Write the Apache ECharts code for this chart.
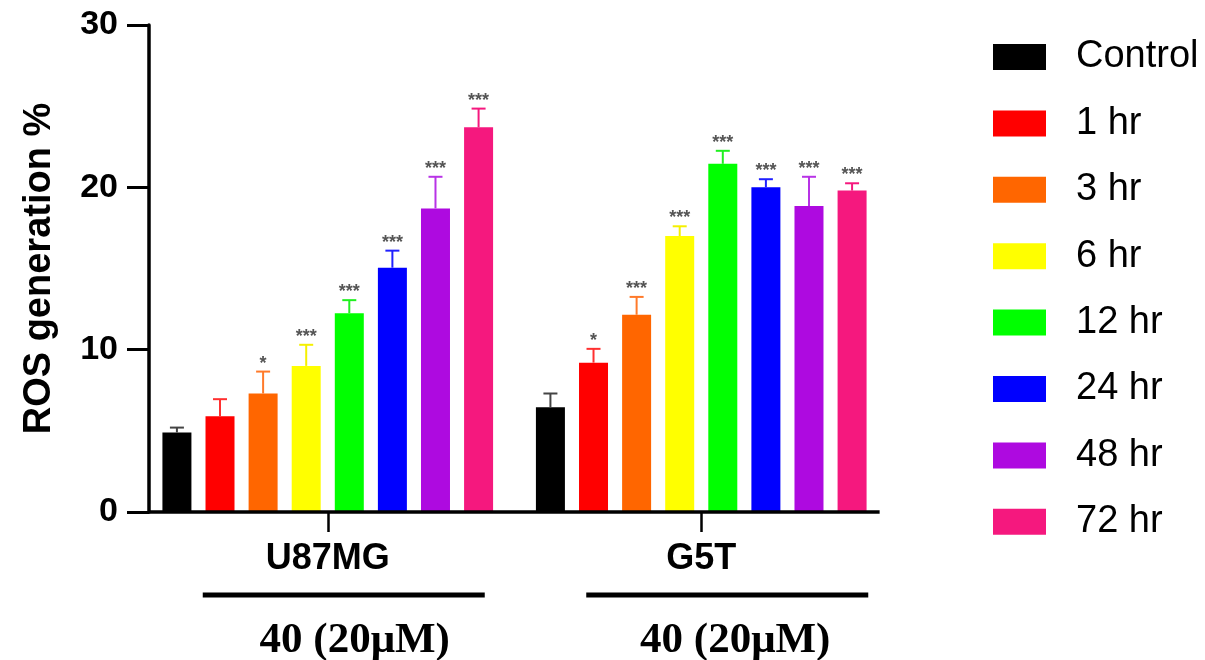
<!DOCTYPE html>
<html>
<head>
<meta charset="utf-8">
<script src="https://cdn.jsdelivr.net/npm/echarts@6/dist/echarts.min.js"></script>
<style>
  html, body { margin: 0; padding: 0; background: #ffffff; }
  #chart { width: 1205px; height: 660px; }
</style>
</head>
<body>
<div id="chart"></div>
<script>
// Cell lines on the x axis
const cellLines = ['U87MG', 'G5T'];
// Treatment time points (one bar series each)
const timePoints = ['Control', '1 hr', '3 hr', '6 hr', '12 hr', '24 hr', '48 hr', '72 hr'];
const barColors = ['#000000', '#ff0000', '#ff6600', '#ffff00', '#00ff00', '#0000ff', '#ae0ae0', '#f5187e'];
const errColors = ['#444444', '#ff3030', '#ff7a2a', '#f5f000', '#20f020', '#2020ff', '#b833e6', '#f5187e'];

// Mean ROS generation (%) per time point
const meanU87MG = [4.9, 5.9, 7.3, 9.0, 12.25, 15.05, 18.7, 23.7];
const meanG5T   = [6.45, 9.2, 12.15, 17.0, 21.45, 20.0, 18.85, 19.8];
// Upper error (SD)
const sdU87MG = [0.3, 1.05, 1.35, 1.3, 0.8, 1.05, 1.95, 1.15];
const sdG5T   = [0.85, 0.85, 1.1, 0.6, 0.8, 0.5, 1.8, 0.45];
// Significance marks vs control
const sigU87MG = ['', '', '*', '***', '***', '***', '***', '***'];
const sigG5T   = ['', '*', '***', '***', '***', '***', '***', '***'];

// Y axis ticks
const yTicks = [0, 10, 20, 30];
// Treatment label under each cell line
const doseLabels = ['40 (20μM)', '40 (20μM)'];

const BAR_WIDTH = 29;
const BAR_GAP = 0.486;
const STEP = BAR_WIDTH * (1 + BAR_GAP);
const Y_AXIS_SHIFT = 8;

const means = [meanU87MG, meanG5T];
const sds = [sdU87MG, sdG5T];
const sigs = [sigU87MG, sigG5T];

const barSeries = timePoints.map((name, i) => ({
  name: name,
  type: 'bar',
  barWidth: BAR_WIDTH,
  barGap: (BAR_GAP * 100) + '%',
  itemStyle: { color: barColors[i] },
  data: cellLines.map((c, k) => means[k][i]),
  z: 2
}));

// Error bars + significance marks: [category, mean, sd, seriesIndex, mark]
const errData = [];
cellLines.forEach((c, k) => {
  timePoints.forEach((t, i) => {
    errData.push([k, means[k][i], sds[k][i], i, sigs[k][i]]);
  });
});

const errSeries = {
  type: 'custom',
  name: 'errors',
  data: errData,
  z: 3,
  renderItem: function (params, api) {
    const cat = api.value(0);
    const mean = api.value(1);
    const sd = api.value(2);
    const idx = api.value(3);
    const mark = errData[params.dataIndex][4];
    const base = api.coord([cat, mean]);
    const top = api.coord([cat, mean + sd]);
    const x = base[0] + (idx - (timePoints.length - 1) / 2) * STEP;
    const col = errColors[idx];
    const children = [
      { type: 'line', shape: { x1: x, y1: base[1], x2: x, y2: top[1] }, style: { stroke: col, lineWidth: 2 } },
      { type: 'line', shape: { x1: x - 7, y1: top[1], x2: x + 7, y2: top[1] }, style: { stroke: col, lineWidth: 2 } }
    ];
    if (mark) {
      children.push({
        type: 'text',
        style: {
          text: mark, x: x, y: top[1] - 8,
          align: 'center', verticalAlign: 'middle',
          fill: '#555555', font: 'bold 18px "Liberation Sans", Arial, sans-serif'
        }
      });
    }
    return { type: 'group', children: children };
  }
};

const chart = echarts.init(document.getElementById('chart'), null, { renderer: 'canvas' });

const option = {
  backgroundColor: '#ffffff',
  animation: false,
  grid: { left: 141, top: 25, width: 747, bottom: 148 },
  legend: {
    orient: 'vertical',
    left: 993,
    top: 38,
    padding: 0,
    itemWidth: 53,
    itemHeight: 26,
    itemGap: 28.4,
    icon: 'rect',
    data: timePoints,
    textStyle: {
      fontFamily: '"Liberation Sans", Arial, sans-serif',
      fontSize: 38,
      color: '#000000',
      padding: [0, 0, 0, 25]
    }
  },
  xAxis: {
    type: 'category',
    data: cellLines,
    axisLine: { show: false },
    axisTick: { show: true, alignWithLabel: true, length: 20, lineStyle: { color: '#000000', width: 2.5 } },
    axisLabel: {
      margin: 29,
      color: '#000000',
      fontFamily: '"Liberation Sans", Arial, sans-serif',
      fontWeight: 'bold',
      fontSize: 36
    },
    splitLine: { show: false }
  },
  yAxis: {
    type: 'value',
    min: yTicks[0],
    max: yTicks[yTicks.length - 1],
    interval: yTicks[1] - yTicks[0],
    offset: -Y_AXIS_SHIFT,
    name: 'ROS generation %',
    nameLocation: 'middle',
    nameGap: 90,
    nameTextStyle: {
      fontFamily: '"Liberation Sans", Arial, sans-serif',
      fontWeight: 'bold',
      fontSize: 38,
      color: '#000000'
    },
    axisLine: { show: true, lineStyle: { color: '#000000', width: 3.5 } },
    axisTick: { show: true, length: 22, lineStyle: { color: '#000000', width: 3 } },
    axisLabel: {
      margin: 31,
      color: '#000000',
      fontFamily: '"Liberation Sans", Arial, sans-serif',
      fontWeight: 'bold',
      fontSize: 34
    },
    splitLine: { show: false }
  },
  series: barSeries.concat([errSeries])
};

chart.setOption(option);

const graphics = [];

// Baseline of the x axis, from the y axis to just past the last bar group
const zeroPt = chart.convertToPixel({ xAxisIndex: 0, yAxisIndex: 0 }, [0, 0]);
const lastCat = chart.convertToPixel({ xAxisIndex: 0 }, cellLines[cellLines.length - 1]);
const axisStartX = 141 + Y_AXIS_SHIFT;
const axisEndX = lastCat + ((timePoints.length) / 2) * STEP + 6;
graphics.push({
  type: 'line',
  z: 10,
  shape: { x1: axisStartX, y1: zeroPt[1], x2: axisEndX, y2: zeroPt[1] },
  style: { stroke: '#000000', lineWidth: 3.5 }
});

// Treatment bracket + label beneath each cell line
const lineOffsets = [16, 26];
const textOffsets = [27, 34];
cellLines.forEach((c, k) => {
  const cx = chart.convertToPixel({ xAxisIndex: 0 }, c);
  graphics.push({
    type: 'rect',
    shape: { x: cx + lineOffsets[k] - 141, y: 592.5, width: 282, height: 5 },
    style: { fill: '#000000' }
  });
  graphics.push({
    type: 'text',
    style: {
      text: doseLabels[k],
      x: cx + textOffsets[k], y: 641,
      align: 'center', verticalAlign: 'middle',
      fill: '#000000',
      font: 'bold 43px "Liberation Serif", "Times New Roman", serif'
    }
  });
});
chart.setOption({ graphic: graphics });
</script>
</body>
</html>
